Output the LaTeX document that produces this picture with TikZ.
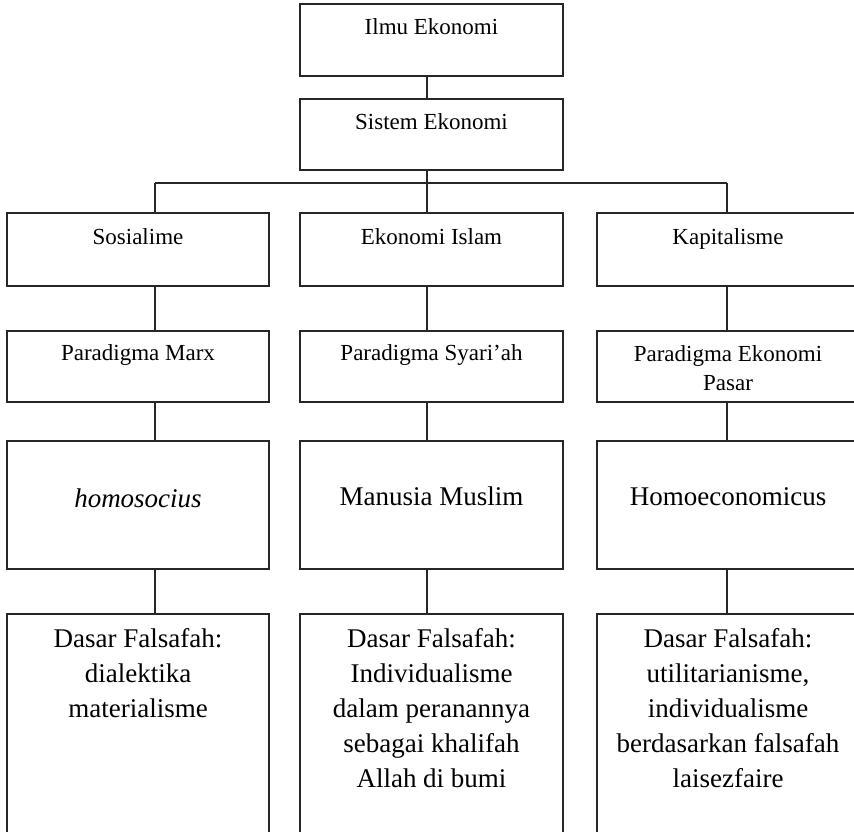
\documentclass[tikz,border=0pt]{standalone}
\usepackage{fontspec}
\setmainfont{Liberation Serif}
\begin{document}
\begin{tikzpicture}[x=1pt,y=-1pt,
  box/.style={draw=black!85, line width=1.2pt, inner sep=0pt, outer sep=0pt},
  smalltxt/.style={font=\fontsize{23}{29}\selectfont, align=center, anchor=base, inner sep=0pt},
  bigtxt/.style={font=\fontsize{27}{35}\selectfont, align=center, anchor=base, inner sep=0pt},
  conn/.style={draw=black!85, line width=1.2pt}]
\useasboundingbox (0,0) rectangle (854,831);
\begin{scope}
\clip (0,0) rectangle (854,831);
% column line positions
\coordinate (lx) at (155,0);
\coordinate (mx) at (427,0);
\coordinate (rx) at (727,0);
\coordinate (bus) at (427,183);
% top boxes
\node[box, minimum width=263, minimum height=72] (ilmu) at (431.5,40) {};
\node[box, minimum width=263, minimum height=71] (sistem) at (431.5,134.5) {};
% row 1
\node[box, minimum width=262, minimum height=73] (l1) at (138,249.5) {};
\node[box, minimum width=263, minimum height=73] (m1) at (431.5,249.5) {};
\node[box, minimum width=263, minimum height=73] (r1) at (728.5,249.5) {};
% row 2
\node[box, minimum width=262, minimum height=71] (l2) at (138,366.5) {};
\node[box, minimum width=263, minimum height=71] (m2) at (431.5,366.5) {};
\node[box, minimum width=263, minimum height=71] (r2) at (728.5,366.5) {};
% row 3
\node[box, minimum width=262, minimum height=128] (l3) at (138,505) {};
\node[box, minimum width=263, minimum height=128] (m3) at (431.5,505) {};
\node[box, minimum width=263, minimum height=128] (r3) at (728.5,505) {};
% row 4
\node[box, minimum width=262, minimum height=236] (l4) at (138,732) {};
\node[box, minimum width=263, minimum height=236] (m4) at (431.5,732) {};
\node[box, minimum width=263, minimum height=236] (r4) at (728.5,732) {};
% connectors
\draw[conn] (ilmu.south -| mx) -- (sistem.north -| mx);
\draw[conn] (sistem.south -| mx) -- (bus);
\draw[conn] (lx |- bus) -- (rx |- bus);
\draw[conn] (lx |- bus) -- (l1.north -| lx);
\draw[conn] (bus) -- (m1.north -| mx);
\draw[conn] (rx |- bus) -- (r1.north -| rx);
\draw[conn] (l1.south -| lx) -- (l2.north -| lx);
\draw[conn] (m1.south -| mx) -- (m2.north -| mx);
\draw[conn] (r1.south -| rx) -- (r2.north -| rx);
\draw[conn] (l2.south -| lx) -- (l3.north -| lx);
\draw[conn] (m2.south -| mx) -- (m3.north -| mx);
\draw[conn] (r2.south -| rx) -- (r3.north -| rx);
\draw[conn] (l3.south -| lx) -- (l4.north -| lx);
\draw[conn] (m3.south -| mx) -- (m4.north -| mx);
\draw[conn] (r3.south -| rx) -- (r4.north -| rx);
% texts (anchor=base is the baseline of the last line)
\node[smalltxt] (tilmu) at (431.5,34) {Ilmu Ekonomi};
\node[smalltxt] (tsistem) at (431.5,129) {Sistem Ekonomi};
\node[smalltxt] (tl1) at (138,244) {Sosialime};
\node[smalltxt] (tm1) at (431.5,244) {Ekonomi Islam};
\node[smalltxt] (tr1) at (728,244) {Kapitalisme};
\node[smalltxt] (tl2) at (138,360) {Paradigma Marx};
\node[smalltxt] (tm2) at (431.5,360) {Paradigma Syari’ah};
\node[smalltxt] (tr2) at (728,390) {Paradigma Ekonomi\\Pasar};
\node[bigtxt] (tl3) at (138,507) {\textit{homosocius}};
\node[bigtxt] (tm3) at (431.5,505) {Manusia Muslim};
\node[bigtxt] (tr3) at (728,505) {Homoeconomicus};
\node[bigtxt] (tl4) at (138,717) {Dasar Falsafah:\\dialektika\\materialisme};
\node[bigtxt] (tm4) at (431.5,787) {Dasar Falsafah:\\Individualisme\\dalam peranannya\\sebagai khalifah\\Allah di bumi};
\node[bigtxt] (tr4) at (728,787) {Dasar Falsafah:\\utilitarianisme,\\individualisme\\berdasarkan falsafah\\laisezfaire};
\end{scope}
\end{tikzpicture}
\end{document}
